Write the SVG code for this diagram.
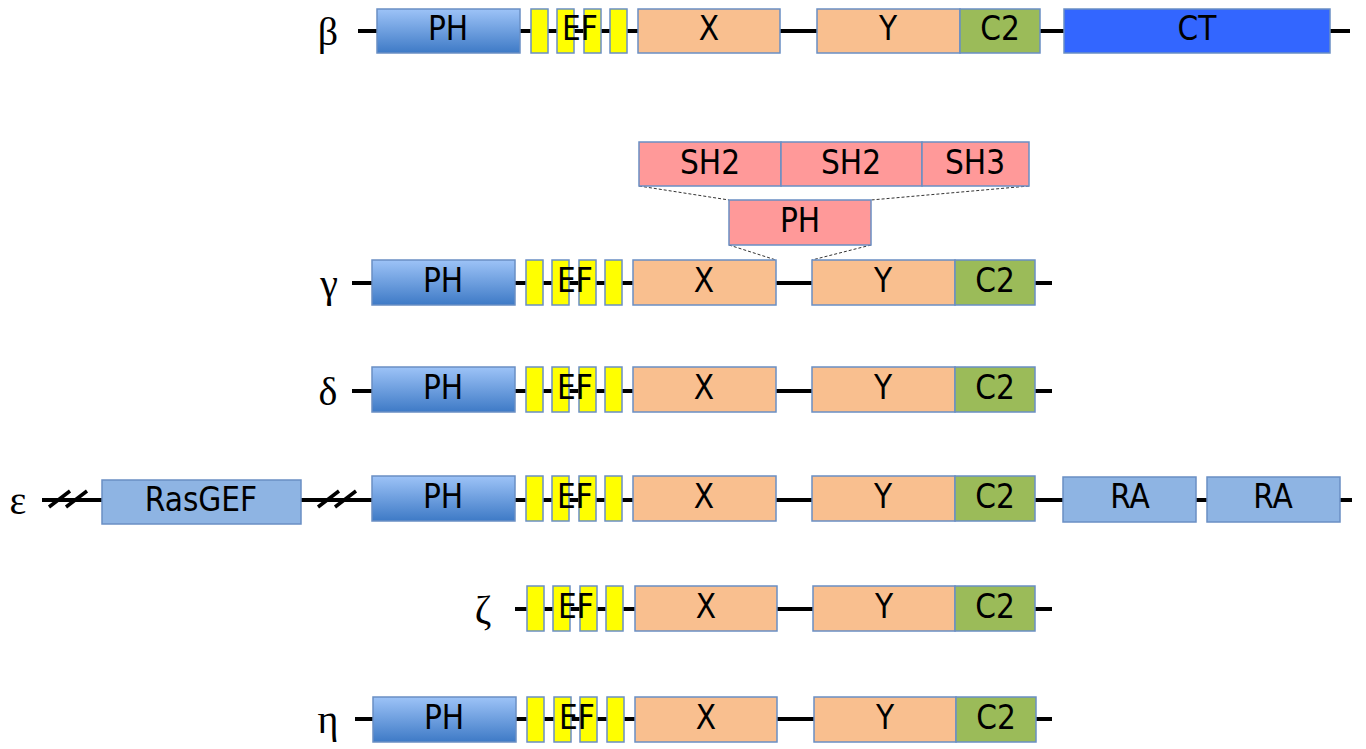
<svg xmlns="http://www.w3.org/2000/svg" width="1366" height="749" viewBox="0 0 1366 749">
  <defs>
    <linearGradient id="phGrad" x1="0" y1="0" x2="0" y2="1">
      <stop offset="0" stop-color="#9DC3F7"/>
      <stop offset="1" stop-color="#3E7AC6"/>
    </linearGradient>
    <style>
      .bb { stroke: #6A8FC4; stroke-width: 1.5; }
      .ph { fill: url(#phGrad); }
      .ef { fill: #FFFF00; }
      .xy { fill: #F9BF8F; }
      .c2 { fill: #9BBB59; }
      .ct { fill: #3366FF; }
      .ras { fill: #8EB4E3; }
      .pink { fill: #FF9999; }
      .bk { stroke: #000; stroke-width: 4; fill: none; }
      .brk { stroke: #000; stroke-width: 3.5; fill: none; }
      .dash { stroke: #333; stroke-width: 1; stroke-dasharray: 3 2; fill: none; }
      .lbl { font-family: "DejaVu Sans Condensed", "DejaVu Sans", sans-serif; font-stretch: condensed; font-size: 33px; fill: #000; text-anchor: middle; }
      .gk { font-family: "Liberation Serif", "Times New Roman", serif; font-size: 40px; fill: #000; text-anchor: middle; }
    </style>
  </defs>

  <!-- backbone lines -->
  <g id="connectors">
    <line class="bk" x1="358" y1="31" x2="1350" y2="31"/>
    <line class="bk" x1="352" y1="283" x2="1052" y2="283"/>
    <line class="bk" x1="352" y1="391" x2="1052" y2="391"/>
    <line class="bk" x1="42" y1="500" x2="1352" y2="500"/>
    <line class="bk" x1="515" y1="609" x2="1052" y2="609"/>
    <line class="bk" x1="355" y1="719" x2="1052" y2="719"/>
    <!-- break marks on the epsilon backbone -->
    <path class="brk" d="M49 507 L70 491 M66 507 L87 491 M318 507 L339 491 M335 507 L356 491"/>
    <!-- inserted region of gamma -->
    <path class="dash" d="M639 186 L729 200 M1029 186 L871 200 M729 245 L776 260 M871 245 L812 260"/>
  </g>

  <!-- PLC beta -->
  <g id="beta">
    <text class="gk" x="328" y="45">β</text>
    <rect class="bb ph" x="377" y="9" width="143" height="44"/>
    <text class="lbl" x="448" y="40">PH</text>
    <rect class="bb ef" x="531" y="9" width="17" height="44"/>
    <rect class="bb ef" x="557" y="9" width="17" height="44"/>
    <rect class="bb ef" x="584" y="9" width="17" height="44"/>
    <rect class="bb ef" x="610" y="9" width="17" height="44"/>
    <text class="lbl" x="580" y="40">EF</text>
    <rect class="bb xy" x="638" y="9" width="142" height="44"/>
    <text class="lbl" x="709" y="40">X</text>
    <rect class="bb xy" x="817" y="9" width="143" height="44"/>
    <text class="lbl" x="888" y="40">Y</text>
    <rect class="bb c2" x="960" y="9" width="80" height="44"/>
    <text class="lbl" x="1000" y="40">C2</text>
    <rect class="bb ct" x="1064" y="9" width="266" height="44"/>
    <text class="lbl" x="1197" y="40">CT</text>
  </g>

  <!-- PLC gamma -->
  <g id="gamma">
    <rect class="bb pink" x="639" y="142" width="142" height="44"/>
    <text class="lbl" x="710" y="174">SH2</text>
    <rect class="bb pink" x="781" y="142" width="141" height="44"/>
    <text class="lbl" x="851" y="174">SH2</text>
    <rect class="bb pink" x="922" y="142" width="107" height="44"/>
    <text class="lbl" x="975" y="174">SH3</text>
    <rect class="bb pink" x="729" y="200" width="142" height="45"/>
    <text class="lbl" x="800" y="232">PH</text>
    <text class="gk" x="329" y="297">γ</text>
    <rect class="bb ph" x="372" y="260" width="143" height="45"/>
    <text class="lbl" x="443" y="292">PH</text>
    <rect class="bb ef" x="526" y="260" width="17" height="45"/>
    <rect class="bb ef" x="552" y="260" width="17" height="45"/>
    <rect class="bb ef" x="579" y="260" width="17" height="45"/>
    <rect class="bb ef" x="605" y="260" width="17" height="45"/>
    <text class="lbl" x="575" y="292">EF</text>
    <rect class="bb xy" x="633" y="260" width="143" height="45"/>
    <text class="lbl" x="704" y="292">X</text>
    <rect class="bb xy" x="812" y="260" width="143" height="45"/>
    <text class="lbl" x="883" y="292">Y</text>
    <rect class="bb c2" x="955" y="260" width="80" height="45"/>
    <text class="lbl" x="995" y="292">C2</text>
  </g>

  <!-- PLC delta -->
  <g id="delta">
    <text class="gk" x="328" y="405">δ</text>
    <rect class="bb ph" x="372" y="367" width="143" height="45"/>
    <text class="lbl" x="443" y="399">PH</text>
    <rect class="bb ef" x="526" y="367" width="17" height="45"/>
    <rect class="bb ef" x="552" y="367" width="17" height="45"/>
    <rect class="bb ef" x="579" y="367" width="17" height="45"/>
    <rect class="bb ef" x="605" y="367" width="17" height="45"/>
    <text class="lbl" x="575" y="399">EF</text>
    <rect class="bb xy" x="633" y="367" width="143" height="45"/>
    <text class="lbl" x="704" y="399">X</text>
    <rect class="bb xy" x="812" y="367" width="143" height="45"/>
    <text class="lbl" x="883" y="399">Y</text>
    <rect class="bb c2" x="955" y="367" width="80" height="45"/>
    <text class="lbl" x="995" y="399">C2</text>
  </g>

  <!-- PLC epsilon -->
  <g id="epsilon">
    <text class="gk" x="18" y="514">ε</text>
    <rect class="bb ras" x="102" y="480" width="199" height="44"/>
    <text class="lbl" x="201" y="511">RasGEF</text>
    <rect class="bb ph" x="372" y="476" width="143" height="45"/>
    <text class="lbl" x="443" y="508">PH</text>
    <rect class="bb ef" x="526" y="476" width="17" height="45"/>
    <rect class="bb ef" x="552" y="476" width="17" height="45"/>
    <rect class="bb ef" x="579" y="476" width="17" height="45"/>
    <rect class="bb ef" x="605" y="476" width="17" height="45"/>
    <text class="lbl" x="575" y="508">EF</text>
    <rect class="bb xy" x="633" y="476" width="143" height="45"/>
    <text class="lbl" x="704" y="508">X</text>
    <rect class="bb xy" x="812" y="476" width="143" height="45"/>
    <text class="lbl" x="883" y="508">Y</text>
    <rect class="bb c2" x="955" y="476" width="80" height="45"/>
    <text class="lbl" x="995" y="508">C2</text>
    <rect class="bb ras" x="1063" y="477" width="133" height="45"/>
    <text class="lbl" x="1130" y="508">RA</text>
    <rect class="bb ras" x="1207" y="477" width="133" height="45"/>
    <text class="lbl" x="1273" y="508">RA</text>
  </g>

  <!-- PLC zeta -->
  <g id="zeta">
    <text class="gk" x="483" y="623">ζ</text>
    <rect class="bb ef" x="527" y="586" width="17" height="45"/>
    <rect class="bb ef" x="553" y="586" width="17" height="45"/>
    <rect class="bb ef" x="580" y="586" width="17" height="45"/>
    <rect class="bb ef" x="606" y="586" width="17" height="45"/>
    <text class="lbl" x="576" y="618">EF</text>
    <rect class="bb xy" x="635" y="586" width="142" height="45"/>
    <text class="lbl" x="706" y="618">X</text>
    <rect class="bb xy" x="813" y="586" width="142" height="45"/>
    <text class="lbl" x="884" y="618">Y</text>
    <rect class="bb c2" x="955" y="586" width="80" height="45"/>
    <text class="lbl" x="995" y="618">C2</text>
  </g>

  <!-- PLC eta -->
  <g id="eta">
    <text class="gk" x="328" y="733">η</text>
    <rect class="bb ph" x="373" y="697" width="143" height="45"/>
    <text class="lbl" x="444" y="729">PH</text>
    <rect class="bb ef" x="527" y="697" width="17" height="45"/>
    <rect class="bb ef" x="554" y="697" width="17" height="45"/>
    <rect class="bb ef" x="580" y="697" width="17" height="45"/>
    <rect class="bb ef" x="607" y="697" width="17" height="45"/>
    <text class="lbl" x="577" y="729">EF</text>
    <rect class="bb xy" x="635" y="697" width="142" height="45"/>
    <text class="lbl" x="706" y="729">X</text>
    <rect class="bb xy" x="814" y="697" width="142" height="45"/>
    <text class="lbl" x="885" y="729">Y</text>
    <rect class="bb c2" x="956" y="697" width="80" height="45"/>
    <text class="lbl" x="996" y="729">C2</text>
  </g>
</svg>
